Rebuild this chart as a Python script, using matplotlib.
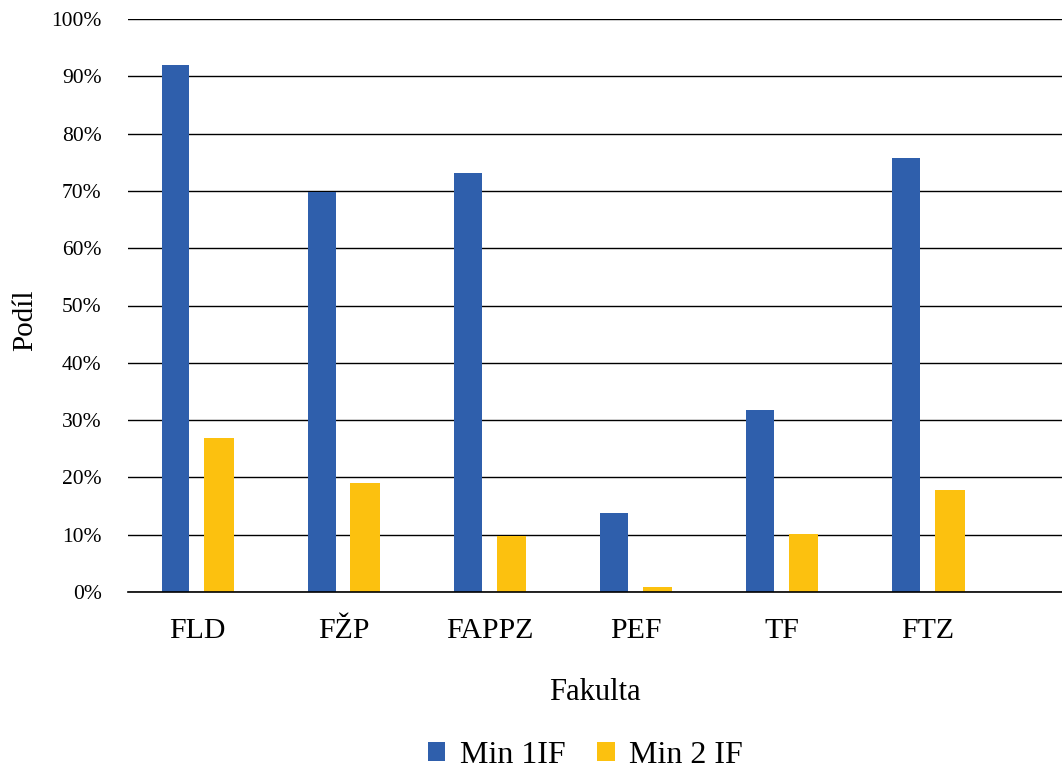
import matplotlib
matplotlib.use("Agg")
import matplotlib.pyplot as plt
import matplotlib.patches as mpatches
import numpy as np
from matplotlib.ticker import FuncFormatter, MultipleLocator

# data
fakulty = ["FLD", "FŽP", "FAPPZ", "PEF", "TF", "FTZ"]
min_1if = [92.0, 69.8, 73.1, 13.8, 31.8, 75.7]
min_2if = [26.9, 19.0, 9.8, 0.9, 10.1, 17.8]

BLUE = "#2F5FAC"
YELLOW = "#FCC10F"
FONT = ["Liberation Serif", "DejaVu Serif"]

plt.rcParams["font.family"] = FONT

fig = plt.figure(figsize=(10.62, 7.68), dpi=100)
ax = fig.add_axes([128 / 1062, 176 / 768, 1 - 128 / 1062, (592 - 19) / 768])

x = np.arange(len(fakulty))
ax.bar(x - 0.15, min_1if, width=0.19, color=BLUE, zorder=3, label="Min 1IF")
ax.bar(x + 0.15, min_2if, width=0.205, color=YELLOW, zorder=3, label="Min 2 IF")

ax.set_xlim(-0.476, 5.92)
ax.set_ylim(0, 100)
ax.yaxis.set_major_locator(MultipleLocator(10))
ax.yaxis.set_major_formatter(FuncFormatter(lambda v, _: f"{v:.0f}%"))
ax.grid(axis="y", color="black", linewidth=1.0, zorder=0)
ax.axhline(0, color="black", linewidth=1.2, zorder=4, clip_on=False)
ax.set_axisbelow(True)

for s in ax.spines.values():
    s.set_visible(False)

ax.set_xticks(x)
ax.set_xticklabels(fakulty, fontsize=21.5)
ax.tick_params(axis="x", length=0, pad=19)
ax.tick_params(axis="y", length=0, pad=19, labelsize=15.5)

ax.set_xlabel("Fakulta", fontsize=22, labelpad=24)
ax.set_ylabel("Podíl", fontsize=21)
ax.yaxis.set_label_coords(-0.096, 0.475)

handles = [
    mpatches.Patch(facecolor=BLUE, label="Min 1IF"),
    mpatches.Patch(facecolor=YELLOW, label="Min 2 IF"),
]
fig.legend(
    handles=handles, loc="lower center", bbox_to_anchor=(0.551, -0.04),
    ncol=2, frameon=False, fontsize=23, handlelength=0.55, handleheight=0.55,
    columnspacing=1.0, handletextpad=0.45,
)

fig.savefig("out.png", dpi=100)
